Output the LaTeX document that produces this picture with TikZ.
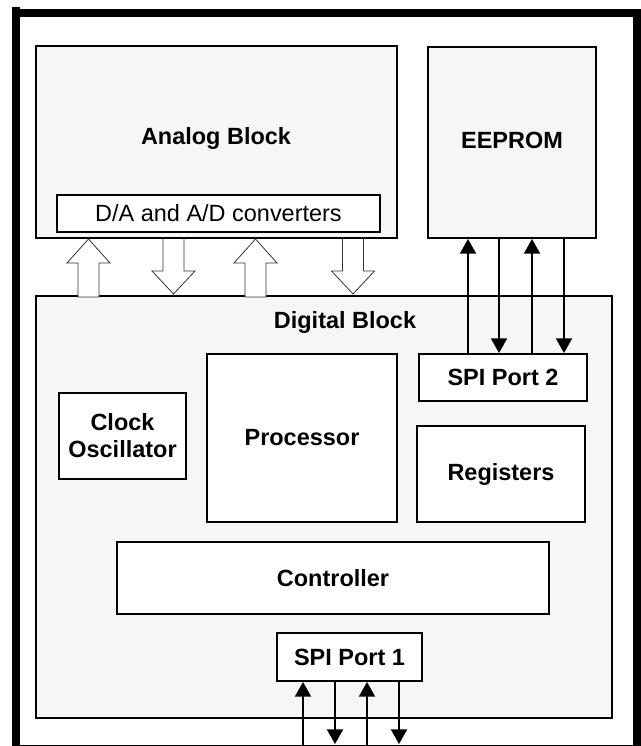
\documentclass[tikz,border=0pt]{standalone}
\usepackage{fontspec}
\setmainfont{Liberation Sans}
\usetikzlibrary{arrows.meta}
\definecolor{blockgray}{RGB}{246,246,246}
\begin{document}
\begin{tikzpicture}[x=0.75pt,y=-0.75pt,
  box/.style={draw=black, line width=1.5pt, fill=white, inner sep=0pt,
    font=\fontsize{17.6}{20.25}\selectfont\bfseries, align=center},
  grayblk/.style={box, fill=blockgray},
  lbl/.style={inner sep=0pt, font=\fontsize{17.6}{20.25}\selectfont\bfseries},
  sig/.style={line width=1.5pt, -{Triangle[width=12pt,length=11pt]}},
  hollow/.style={draw=black!80, line width=0.6pt, fill=white, line join=miter},
  framel/.style={line width=6pt},
  upblk/.pic={\path[hollow] (0,0) -- (21.5,24) -- (10.5,24) -- (10.5,58) -- (-10.5,58) -- (-10.5,24) -- (-21.5,24) -- cycle;},
  downblk/.pic={\path[hollow] (-10.5,0) -- (-10.5,32) -- (-21.5,32) -- (0,55) -- (21.5,32) -- (10.5,32) -- (10.5,0);}
]
\useasboundingbox (0,0) rectangle (641,746);

% outer frame
\draw[framel] (12,13) -- (641,13);
\draw[framel] (16,7) -- (16,746);
\draw[framel] (637,9) -- (637,746);
\draw[line width=0.75pt] (16,745) -- (637,745);

% top blocks
\node[grayblk, minimum width={361*0.75pt}, minimum height={192*0.75pt}] (analog) at (216.5,142) {};
\node[lbl] (analoglbl) at (216,138) {Analog Block};
\node[box, minimum width={323*0.75pt}, minimum height={37*0.75pt}, font=\fontsize{17.6}{20.25}\selectfont] (dac) at (218.5,213.5) {D/A and A/D converters};
\node[grayblk, minimum width={168*0.75pt}, minimum height={191*0.75pt}] (eeprom) at (512,142.5) {};
\node[lbl] (eepromlbl) at (512,140) {EEPROM};

% digital block
\node[grayblk, minimum width={576*0.75pt}, minimum height={422*0.75pt}] (digital) at (324,507) {};
\node[lbl] (digitallbl) at (345,322) {Digital Block};

\node[box, minimum width={127*0.75pt}, minimum height={86*0.75pt}] (clock) at (122.5,436) {Clock\\Oscillator};
\node[box, minimum width={190*0.75pt}, minimum height={168*0.75pt}] (proc) at (302,438) {Processor};
\node[box, minimum width={168*0.75pt}, minimum height={47*0.75pt}] (spi2) at (503,377.5) {SPI Port 2};
\node[box, minimum width={168*0.75pt}, minimum height={96*0.75pt}] (regs) at (501,474) {Registers};
\node[box, minimum width={432*0.75pt}, minimum height={72*0.75pt}] (ctrl) at (333,578) {Controller};
\node[box, minimum width={145*0.75pt}, minimum height={48*0.75pt}] (spi1) at (349.5,657) {SPI Port 1};

% hollow block arrows between analog and digital
\pic at (88.5,0 |- analog.south) {upblk};
\pic at (173.5,0 |- analog.south) {downblk};
\pic at (255.5,0 |- analog.south) {upblk};
\pic at (353,0 |- analog.south) {downblk};

% SPI port 2 <-> EEPROM
\draw[sig] (468,0 |- spi2.north) -- (468,0 |- eeprom.south);
\draw[sig] (499,0 |- eeprom.south) -- (499,0 |- spi2.north);
\draw[sig] (532,0 |- spi2.north) -- (532,0 |- eeprom.south);
\draw[sig] (564,0 |- eeprom.south) -- (564,0 |- spi2.north);

% SPI port 1 external lines
\coordinate (e1) at (303,746);
\coordinate (e2) at (335,744);
\coordinate (e3) at (367,746);
\coordinate (e4) at (399,744);
\draw[sig] (e1) -- (e1 |- spi1.south);
\draw[sig] (e2 |- spi1.south) -- (e2);
\draw[sig] (e3) -- (e3 |- spi1.south);
\draw[sig] (e4 |- spi1.south) -- (e4);
\end{tikzpicture}
\end{document}
